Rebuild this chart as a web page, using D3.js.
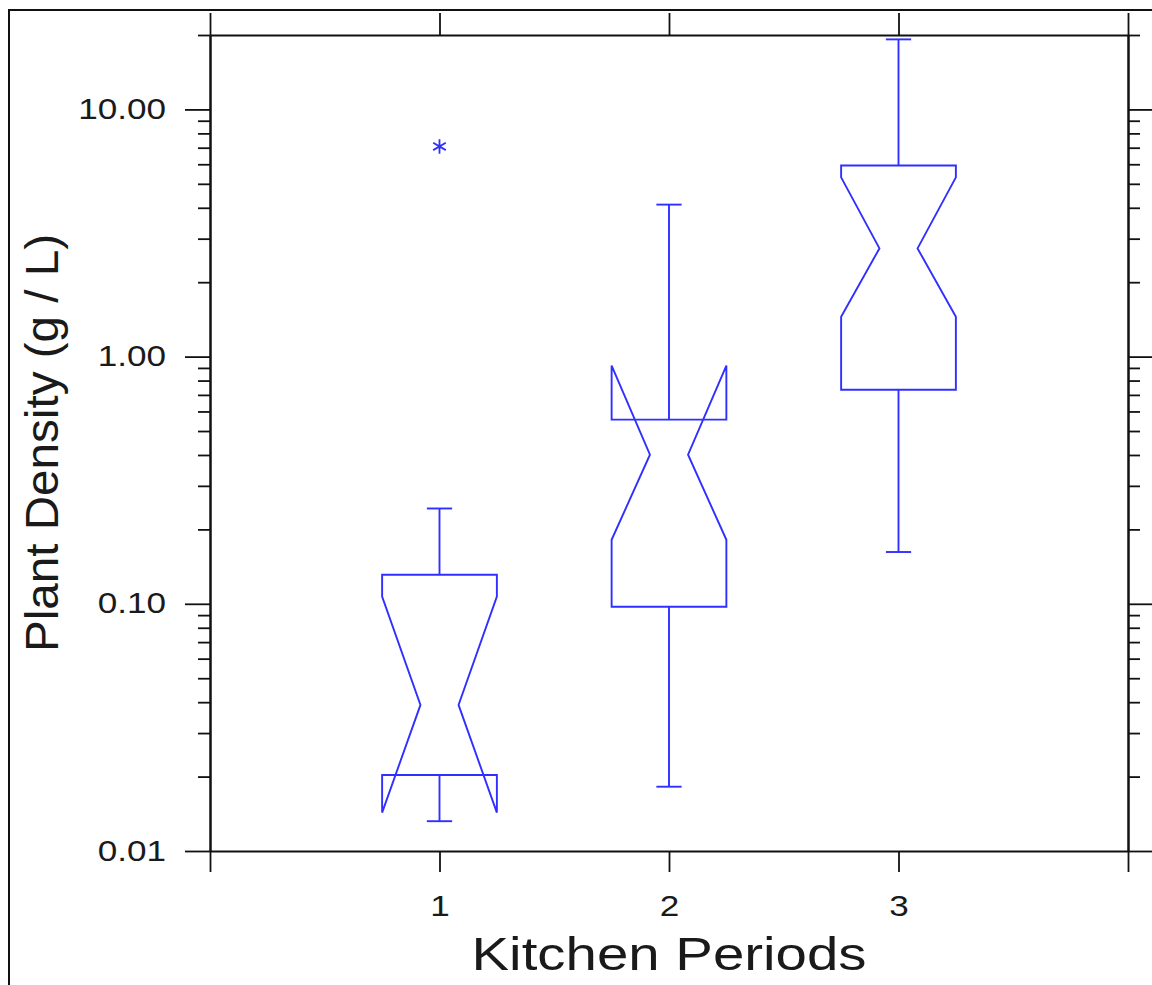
<!DOCTYPE html>
<html>
<head>
<meta charset="utf-8">
<script src="https://cdn.jsdelivr.net/npm/d3@7"></script>
<style>
  html, body { margin: 0; padding: 0; background: #fff; }
  svg { display: block; }
  text { font-family: "Liberation Sans", Arial, sans-serif; fill: #1a1a1a; }
</style>
</head>
<body>
<div id="chart"></div>
<script>
// box summaries (g / L)
const periods     = [1, 2, 3];
const whiskerLow  = [0.0132, 0.0182, 0.162];
const q1          = [0.0203, 0.0973, 0.734];
const median      = [0.039, 0.401, 2.74];
const q3          = [0.131, 0.556, 5.93];
const whiskerHigh = [0.243, 4.12, 19.2];
const notchLow    = [0.0143, 0.1815, 1.45];
const notchHigh   = [0.107, 0.92, 5.31];
const outlierPeriod = [1];
const outlierValue  = [7.08];

const xTicks = [0, 1, 2, 3, 4];
const xLabels = ["", "1", "2", "3", ""];
const yMajor = [0.01, 0.1, 1, 10];
const yMinor = [2, 3, 4, 5, 6, 7, 8, 9].flatMap(m => [0.01, 0.1, 1].map(d => +(m * d).toPrecision(3))).concat([20]);

const W = 1152, H = 985;
const plot = { left: 210, right: 1128, top: 35, bottom: 851 };
const blue = "#2f2fff";
const stretch = 1.17;

const svg = d3.select("#chart").append("svg")
  .attr("width", W).attr("height", H);

// outer frame (cropped at right / bottom)
svg.append("rect")
  .attr("x", 9).attr("y", 10).attr("width", 1300).attr("height", 1200)
  .attr("fill", "none").attr("stroke", "#111").attr("stroke-width", 2);

const x = d3.scaleLinear().domain([0, 4]).range([plot.left, plot.right]);
const y = d3.scaleLog().domain([0.01, 20]).range([plot.bottom, plot.top]);

function styleAxis(g) {
  g.selectAll(".domain").attr("stroke", "#111").attr("stroke-width", 2);
  g.selectAll(".tick line").attr("stroke", "#111").attr("stroke-width", 1.8);
}
function stretchText(sel, k) {
  sel.each(function () {
    const w = this.getComputedTextLength();
    if (w > 0) d3.select(this).attr("textLength", w * k).attr("lengthAdjust", "spacingAndGlyphs");
  });
}

// left axis
svg.append("g").attr("transform", `translate(${plot.left},0)`)
  .call(d3.axisLeft(y).tickValues(yMinor).tickSize(12).tickFormat("").tickSizeOuter(0))
  .call(styleAxis);
const leftMajor = svg.append("g").attr("transform", `translate(${plot.left},0)`)
  .call(d3.axisLeft(y).tickValues(yMajor).tickSizeInner(25).tickSizeOuter(0).tickPadding(19).tickFormat(d3.format(".2f")))
  .call(styleAxis);
leftMajor.selectAll(".tick text")
  .attr("font-size", 30).attr("font-family", "Liberation Sans, Arial, sans-serif")
  .attr("fill", "#2a2a2a").attr("dy", "0.3em")
  .call(stretchText, stretch);

// right axis
svg.append("g").attr("transform", `translate(${plot.right},0)`)
  .call(d3.axisRight(y).tickValues(yMinor).tickSize(12).tickFormat("").tickSizeOuter(0))
  .call(styleAxis);
svg.append("g").attr("transform", `translate(${plot.right},0)`)
  .call(d3.axisRight(y).tickValues(yMajor).tickSize(24).tickFormat("").tickSizeOuter(0))
  .call(styleAxis);

// bottom and top axes
const bottomAxis = svg.append("g").attr("transform", `translate(0,${plot.bottom})`)
  .call(d3.axisBottom(x).tickValues(xTicks).tickSizeInner(21).tickSizeOuter(0).tickPadding(23)
    .tickFormat((d, i) => xLabels[i]))
  .call(styleAxis);
bottomAxis.selectAll(".tick text")
  .attr("font-size", 30).attr("font-family", "Liberation Sans, Arial, sans-serif")
  .attr("fill", "#2a2a2a")
  .call(stretchText, stretch);

svg.append("g").attr("transform", `translate(0,${plot.top})`)
  .call(d3.axisTop(x).tickValues(xTicks).tickSize(22).tickFormat("").tickSizeOuter(0))
  .call(styleAxis);

// axis titles
svg.append("text")
  .attr("x", x(2)).attr("y", 970)
  .attr("text-anchor", "middle")
  .attr("font-size", 46)
  .attr("textLength", 395).attr("lengthAdjust", "spacingAndGlyphs")
  .attr("fill", "#111")
  .text("Kitchen Periods");

svg.append("text")
  .attr("transform", `translate(58,${(plot.top + plot.bottom) / 2}) rotate(-90)`)
  .attr("text-anchor", "middle")
  .attr("font-size", 46)
  .attr("textLength", 418).attr("lengthAdjust", "spacingAndGlyphs")
  .attr("fill", "#111")
  .text("Plant Density (g / L)");

// notched boxes
const boxHalf = 0.25, notchHalf = 0.083, capHalf = 0.055;
const boxes = periods.map((p, i) => ({
  p, wl: whiskerLow[i], q1: q1[i], med: median[i], q3: q3[i], wh: whiskerHigh[i],
  nl: notchLow[i], nh: notchHigh[i]
}));

const g = svg.append("g")
  .attr("fill", "none").attr("stroke", blue).attr("stroke-width", 1.9);

const outline = d => {
  const L = x(d.p - boxHalf), R = x(d.p + boxHalf);
  const Li = x(d.p - notchHalf), Ri = x(d.p + notchHalf);
  const pts = [
    [L, y(d.q3)], [L, y(d.nh)], [Li, y(d.med)], [L, y(d.nl)], [L, y(d.q1)],
    [R, y(d.q1)], [R, y(d.nl)], [Ri, y(d.med)], [R, y(d.nh)], [R, y(d.q3)]
  ];
  return d3.line()(pts) + "Z";
};

g.selectAll("path.box").data(boxes).join("path")
  .attr("class", "box").attr("d", outline);

// whiskers
g.selectAll("line.wup").data(boxes).join("line")
  .attr("x1", d => x(d.p)).attr("x2", d => x(d.p))
  .attr("y1", d => y(d.q3)).attr("y2", d => y(d.wh));
g.selectAll("line.wdn").data(boxes).join("line")
  .attr("x1", d => x(d.p)).attr("x2", d => x(d.p))
  .attr("y1", d => y(d.q1)).attr("y2", d => y(d.wl));
g.selectAll("line.capup").data(boxes).join("line")
  .attr("x1", d => x(d.p - capHalf)).attr("x2", d => x(d.p + capHalf))
  .attr("y1", d => y(d.wh)).attr("y2", d => y(d.wh));
g.selectAll("line.capdn").data(boxes).join("line")
  .attr("x1", d => x(d.p - capHalf)).attr("x2", d => x(d.p + capHalf))
  .attr("y1", d => y(d.wl)).attr("y2", d => y(d.wl));

// outliers
g.selectAll("path.out").data(outlierPeriod.map((p, i) => ({ p, v: outlierValue[i] }))).join("path")
  .attr("class", "out")
  .attr("transform", d => `translate(${x(d.p)},${y(d.v)})`)
  .attr("d", d3.symbol(d3.symbolAsterisk, 150))
  .attr("stroke-width", 1.8);
</script>
</body>
</html>
